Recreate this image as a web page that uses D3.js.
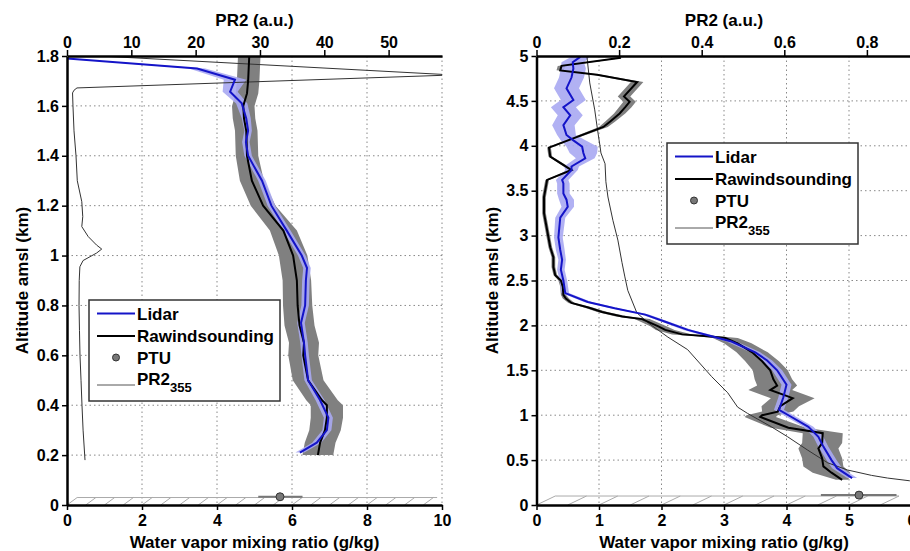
<!DOCTYPE html>
<html>
<head>
<meta charset="utf-8">
<script src="https://cdn.jsdelivr.net/npm/d3@7/dist/d3.min.js"></script>
<style>
  body { margin: 0; background: #fff; }
  svg text { font-family: "Liberation Sans", Arial, sans-serif; font-weight: bold; fill: #000; }
</style>
</head>
<body>
<svg id="chart" width="910" height="551"></svg>
<script>
// ---- left panel: 0 - 1.8 km ----
const lidarAltL = [1.79, 1.75, 1.705, 1.657, 1.61, 1.55, 1.5, 1.455, 1.4, 1.3, 1.2, 1.1, 1.0, 0.95, 0.9, 0.8, 0.73, 0.65, 0.6, 0.5, 0.42, 0.35, 0.3, 0.25, 0.21];
const lidarQL   = [0.0, 3.47, 4.48, 4.35, 4.66, 4.78, 4.83, 4.77, 4.83, 5.2, 5.45, 5.86, 6.26, 6.4, 6.37, 6.35, 6.24, 6.32, 6.35, 6.43, 6.75, 6.97, 6.93, 6.66, 6.21];
const lidarErrL = [0.05, 0.22, 0.3, 0.2, 0.15, 0.12, 0.1, 0.1, 0.1, 0.1, 0.1, 0.1, 0.1, 0.1, 0.1, 0.1, 0.1, 0.1, 0.1, 0.1, 0.12, 0.12, 0.12, 0.12, 0.12];

const rawinAltL = [1.8, 1.7, 1.65, 1.6, 1.55, 1.5, 1.4, 1.3, 1.2, 1.1, 1.0, 0.9, 0.8, 0.72, 0.65, 0.6, 0.5, 0.42, 0.4, 0.35, 0.3, 0.25, 0.2];
const rawinQL   = [4.86, 4.83, 4.8, 4.7, 4.72, 4.78, 4.8, 4.93, 5.23, 5.77, 6.03, 6.13, 6.15, 6.2, 6.32, 6.3, 6.43, 6.8, 6.93, 6.93, 6.88, 6.75, 6.69];
const rawinErrL = [0.3, 0.3, 0.3, 0.3, 0.3, 0.3, 0.3, 0.32, 0.33, 0.36, 0.38, 0.38, 0.39, 0.4, 0.4, 0.4, 0.41, 0.42, 0.43, 0.43, 0.42, 0.41, 0.41];

const pr2AltL = [0.18, 0.3, 0.4, 0.5, 0.6, 0.7, 0.8, 0.9, 0.955, 0.98, 1.01, 1.026, 1.042, 1.076, 1.116, 1.156, 1.216, 1.3, 1.4, 1.5, 1.6, 1.652, 1.663, 1.672, 1.724, 1.8, 1.85];
const pr2ValL = [2.8, 2.5, 2.33, 2.18, 2.02, 1.94, 1.87, 1.9, 2.0, 2.5, 4.6, 5.4, 4.6, 3.3, 2.3, 2.45, 2.3, 1.6, 1.4, 1.09, 0.93, 0.86, 1.1, 1.55, 60, 5.1, 1.0];

const ptuL = { q: 5.68, lo: 5.1, hi: 6.28, alt: 0.033 };

// ---- right panel: 0 - 5 km ----
const lidarAltR = [4.99, 4.93, 4.86, 4.76, 4.64, 4.51, 4.43, 4.34, 4.23, 4.12, 4.06, 3.99, 3.92, 3.86, 3.77, 3.73, 3.62, 3.58, 3.47, 3.4, 3.32, 3.2, 2.98, 2.84, 2.73, 2.62, 2.5, 2.36, 2.26, 2.19, 2.12, 2.04, 1.95, 1.89, 1.82, 1.7, 1.61, 1.5, 1.34, 1.2, 1.06, 0.98, 0.87, 0.76, 0.65, 0.5, 0.41, 0.3];
const lidarQR   = [0.7, 0.58, 0.59, 0.56, 0.48, 0.59, 0.43, 0.54, 0.43, 0.48, 0.59, 0.73, 0.75, 0.78, 0.56, 0.56, 0.41, 0.43, 0.43, 0.48, 0.5, 0.38, 0.35, 0.38, 0.41, 0.39, 0.43, 0.46, 0.82, 1.25, 1.74, 2.06, 2.42, 2.74, 3.12, 3.5, 3.69, 3.85, 4.0, 3.95, 3.88, 4.08, 4.35, 4.51, 4.59, 4.72, 4.81, 5.05];
const lidarErrR = [0.15, 0.18, 0.2, 0.2, 0.2, 0.2, 0.2, 0.2, 0.18, 0.15, 0.2, 0.25, 0.22, 0.15, 0.12, 0.1, 0.1, 0.1, 0.1, 0.12, 0.1, 0.08, 0.07, 0.07, 0.06, 0.06, 0.06, 0.06, 0.06, 0.06, 0.06, 0.06, 0.07, 0.08, 0.08, 0.08, 0.08, 0.08, 0.08, 0.08, 0.08, 0.08, 0.08, 0.08, 0.08, 0.08, 0.08, 0.08];

const rawinAltR = [4.98, 4.89, 4.84, 4.79, 4.71, 4.55, 4.49, 4.43, 4.36, 4.27, 4.21, 3.98, 3.88, 3.73, 3.62, 3.43, 3.25, 3.06, 2.87, 2.76, 2.65, 2.56, 2.5, 2.43, 2.34, 2.3, 2.25, 2.2, 2.15, 2.1, 2.07, 1.99, 1.95, 1.9, 1.88, 1.86, 1.8, 1.7, 1.6, 1.5, 1.4, 1.33, 1.28, 1.19, 1.1, 1.04, 1.0, 0.98, 0.86, 0.8, 0.69, 0.63, 0.52, 0.43, 0.36, 0.28];
const rawinQR   = [1.35, 0.4, 0.38, 0.97, 1.61, 1.4, 1.49, 1.42, 1.33, 1.18, 1.07, 0.2, 0.22, 0.56, 0.17, 0.12, 0.12, 0.17, 0.22, 0.27, 0.27, 0.3, 0.39, 0.42, 0.43, 0.47, 0.56, 0.83, 1.05, 1.37, 1.69, 1.95, 2.06, 2.33, 2.74, 3.02, 3.22, 3.45, 3.61, 3.74, 3.79, 3.85, 3.74, 4.1, 3.9, 3.86, 3.61, 3.58, 4.03, 4.58, 4.57, 4.51, 4.57, 4.59, 4.72, 4.89];
const rawinErrR = [0.06, 0.06, 0.06, 0.07, 0.1, 0.1, 0.1, 0.1, 0.09, 0.08, 0.07, 0.03, 0.03, 0.04, 0.03, 0.03, 0.03, 0.03, 0.03, 0.03, 0.03, 0.03, 0.04, 0.04, 0.04, 0.05, 0.05, 0.07, 0.08, 0.1, 0.12, 0.13, 0.15, 0.16, 0.18, 0.2, 0.22, 0.25, 0.27, 0.28, 0.3, 0.32, 0.35, 0.35, 0.3, 0.25, 0.25, 0.25, 0.28, 0.32, 0.32, 0.32, 0.32, 0.32, 0.3, 0.1];

const pr2AltR = [5.0, 4.7, 4.4, 4.14, 3.99, 3.92, 3.8, 3.6, 3.43, 3.17, 2.95, 2.7, 2.54, 2.39, 2.14, 2.03, 1.87, 1.73, 1.43, 1.25, 1.09, 1.02, 0.87, 0.76, 0.61, 0.47, 0.39, 0.33, 0.3, 0.27, 0.25];
const pr2ValR = [0.122, 0.129, 0.141, 0.149, 0.154, 0.156, 0.166, 0.168, 0.173, 0.185, 0.197, 0.207, 0.214, 0.221, 0.243, 0.27, 0.318, 0.366, 0.424, 0.463, 0.487, 0.511, 0.569, 0.608, 0.657, 0.705, 0.753, 0.811, 0.85, 0.903, 0.95];

const ptuR = { q: 5.16, lo: 4.55, hi: 5.76, alt: 0.11 };

// tick labels
const xTicksL = [0, 2, 4, 6, 8, 10];
const yTicksL = [0, 0.2, 0.4, 0.6, 0.8, 1, 1.2, 1.4, 1.6, 1.8];
const prTicksL = [0, 10, 20, 30, 40, 50];
const xTicksR = [0, 1, 2, 3, 4, 5, 6];
const yTicksR = [0, 0.5, 1, 1.5, 2, 2.5, 3, 3.5, 4, 4.5, 5];
const prTicksR = [0, 0.2, 0.4, 0.6, 0.8];

const legendItems = ["Lidar", "Rawindsounding", "PTU", "PR2"];

const zip = (alt, q, err) => alt.map((a, i) => ({ alt: a, q: q[i], err: err ? err[i] : 0 }));

const panels = [
  { id: "L", left: 67, width: 375, top: 56, height: 449, xMax: 10, yMax: 1.8, prMax: 58.3,
    xTicks: xTicksL, yTicks: yTicksL, prTicks: prTicksL,
    lidar: zip(lidarAltL, lidarQL, lidarErrL), rawin: zip(rawinAltL, rawinQL, rawinErrL),
    pr2: zip(pr2AltL, pr2ValL), ptu: ptuL,
    ground: { end: 9.6, shift: 0.27, alt: 0.03 },
    legend: { x: 89, y: 300 } },
  { id: "R", left: 536.5, width: 375, top: 56, height: 449, xMax: 6, yMax: 5, prMax: 0.908,
    xTicks: xTicksR, yTicks: yTicksR, prTicks: prTicksR,
    lidar: zip(lidarAltR, lidarQR, lidarErrR), rawin: zip(rawinAltR, rawinQR, rawinErrR),
    pr2: zip(pr2AltR, pr2ValR), ptu: ptuR,
    ground: { end: 5.5, shift: 0.3, alt: 0.1 },
    legend: { x: 667, y: 143 } }
];

const svg = d3.select("#chart");
const fmt = (v) => String(+v.toFixed(1));

panels.forEach(drawPanel);

function drawPanel(p) {
  const x = d3.scaleLinear().domain([0, p.xMax]).range([p.left, p.left + p.width]);
  const pr = d3.scaleLinear().domain([0, p.prMax]).range([p.left, p.left + p.width]);
  const y = d3.scaleLinear().domain([0, p.yMax]).range([p.top + p.height, p.top]);
  const bottom = p.top + p.height;

  svg.append("clipPath").attr("id", "clip" + p.id)
    .append("rect")
    .attr("x", p.left).attr("y", p.top)
    .attr("width", p.width).attr("height", p.height);

  // dotted grid
  const grid = svg.append("g");
  grid.selectAll("line.v").data(p.xTicks.filter((d) => d > 0)).join("line")
    .attr("x1", (d) => x(d)).attr("x2", (d) => x(d))
    .attr("y1", p.top).attr("y2", bottom)
    .attr("stroke", "#888").attr("stroke-dasharray", "1.5,3");
  grid.selectAll("line.h").data(p.yTicks.filter((d) => d > 0 && d < p.yMax)).join("line")
    .attr("x1", p.left).attr("x2", p.left + p.width)
    .attr("y1", (d) => y(d)).attr("y2", (d) => y(d))
    .attr("stroke", "#888").attr("stroke-dasharray", "1.5,3");

  // ground plate with hatching
  const g0 = svg.append("g").attr("stroke", "#aaa").attr("stroke-width", 1);
  g0.append("line")
    .attr("x1", x(p.ground.shift)).attr("x2", x(p.ground.end + p.ground.shift))
    .attr("y1", y(p.ground.alt)).attr("y2", y(p.ground.alt));
  g0.selectAll("line.h").data(d3.range(0, p.ground.end + 0.01, 0.5)).join("line")
    .attr("x1", (d) => x(d)).attr("y1", bottom)
    .attr("x2", (d) => x(d + p.ground.shift)).attr("y2", y(p.ground.alt));

  const plot = svg.append("g").attr("clip-path", `url(#clip${p.id})`);

  const band = d3.area()
    .y((d) => y(d.alt))
    .x0((d) => x(d.q - d.err))
    .x1((d) => x(d.q + d.err));
  const line = d3.line().x((d) => x(d.q)).y((d) => y(d.alt));
  const prLine = d3.line().x((d) => pr(d.q)).y((d) => y(d.alt));

  plot.append("path").datum(p.rawin).attr("d", band).attr("fill", "#808080");
  plot.append("path").datum(p.lidar).attr("d", band).attr("fill", "#a9a9f2").attr("opacity", 0.9);
  plot.append("path").datum(p.pr2).attr("d", prLine)
    .attr("fill", "none").attr("stroke", "#333").attr("stroke-width", 1);
  plot.append("path").datum(p.rawin).attr("d", line)
    .attr("fill", "none").attr("stroke", "#000").attr("stroke-width", 2);
  plot.append("path").datum(p.lidar).attr("d", line)
    .attr("fill", "none").attr("stroke", "#1414c8").attr("stroke-width", 2);

  // PTU point with error bar
  plot.append("line")
    .attr("x1", x(p.ptu.lo)).attr("x2", x(p.ptu.hi))
    .attr("y1", y(p.ptu.alt)).attr("y2", y(p.ptu.alt))
    .attr("stroke", "#777").attr("stroke-width", 2);
  plot.append("circle")
    .attr("cx", x(p.ptu.q)).attr("cy", y(p.ptu.alt)).attr("r", 4)
    .attr("fill", "#777").attr("stroke", "#333");

  // axes
  const ax = (a) => a.selectAll("text").style("font-size", "16px");
  const yAx = svg.append("g").attr("transform", `translate(${p.left},0)`)
    .call(d3.axisLeft(y).tickValues(p.yTicks).tickFormat(fmt).tickSize(5).tickPadding(3).tickSizeOuter(0));
  ax(yAx);
  const xAx = svg.append("g").attr("transform", `translate(0,${bottom})`)
    .call(d3.axisBottom(x).tickValues(p.xTicks).tickFormat(fmt).tickSize(5).tickPadding(5).tickSizeOuter(0));
  ax(xAx);
  const tAx = svg.append("g").attr("transform", `translate(0,${p.top})`)
    .call(d3.axisTop(pr).tickValues(p.prTicks).tickFormat(fmt).tickSize(6).tickPadding(2).tickSizeOuter(0));
  ax(tAx);
  [yAx, xAx, tAx].forEach((a) => {
    a.select(".domain").attr("stroke-width", 2.5);
    a.selectAll(".tick line").attr("stroke-width", 1.5);
  });

  // titles
  const cx = p.left + p.width / 2;
  svg.append("text").attr("x", cx).attr("y", 26)
    .attr("text-anchor", "middle").style("font-size", "17px").text("PR2 (a.u.)");
  svg.append("text").attr("x", cx).attr("y", 548)
    .attr("text-anchor", "middle").style("font-size", "17px").text("Water vapor mixing ratio (g/kg)");
  svg.append("text")
    .attr("transform", `translate(${p.left - 39},${p.top + p.height / 2}) rotate(-90)`)
    .attr("text-anchor", "middle").style("font-size", "17px").text("Altitude amsl (km)");

  drawLegend(p.legend.x, p.legend.y);
}

function drawLegend(lx, ly) {
  const lg = svg.append("g").attr("transform", `translate(${lx},${ly})`);
  lg.append("rect").attr("width", 191).attr("height", 101)
    .attr("fill", "#fff").attr("stroke", "#333").attr("stroke-width", 1.5);
  const rows = [13.5, 36, 57.5, 85];
  const styles = [
    { stroke: "#1414c8", w: 2 },
    { stroke: "#000", w: 2 },
    null,
    { stroke: "#555", w: 1 }
  ];
  legendItems.forEach((name, i) => {
    const ry = rows[i];
    if (styles[i]) {
      lg.append("line").attr("x1", 8).attr("x2", 46).attr("y1", ry).attr("y2", ry)
        .attr("stroke", styles[i].stroke).attr("stroke-width", styles[i].w);
    } else {
      lg.append("circle").attr("cx", 27).attr("cy", ry).attr("r", 3.5)
        .attr("fill", "#777").attr("stroke", "#333");
    }
    const t = lg.append("text").attr("x", 48).attr("y", i === 3 ? ry - 0.5 : ry + 6)
      .style("font-size", "17px").text(name);
    if (i === 3) {
      t.append("tspan").attr("dy", 7).style("font-size", "13px").text("355");
    }
  });
}
</script>
</body>
</html>
